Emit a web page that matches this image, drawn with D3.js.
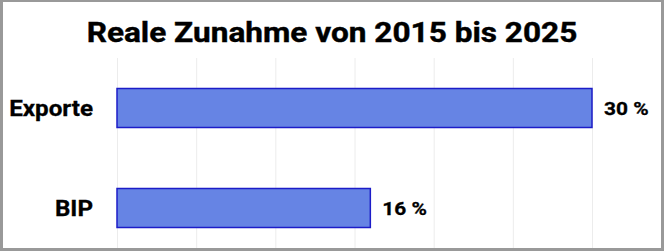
<!DOCTYPE html>
<html>
<head>
<meta charset="utf-8">
<script src="https://cdn.jsdelivr.net/npm/d3@7"></script>
<style>
  html, body { margin: 0; padding: 0; background: #fff; }
  svg { display: block; }
</style>
</head>
<body>
<div id="wrapper"></div>
<script>
const categories = ["Exporte", "BIP"];
const values = [30, 16];
const gridTicks = [0, 5, 10, 15, 20, 25, 30];
const title = "Reale Zunahme von 2015 bis 2025";

const width = 664;
const height = 251;
const margin = { top: 58, left: 117, right: 72, bottom: 3 };

const svg = d3.select("#wrapper").append("svg")
    .attr("width", width)
    .attr("height", height);

// grauer Rahmen
svg.append("rect")
    .attr("width", width).attr("height", height)
    .attr("fill", "#999");
svg.append("rect")
    .attr("x", 3).attr("y", 2)
    .attr("width", width - 6).attr("height", height - 5)
    .attr("fill", "#fff");

const xScaler = d3.scaleLinear()
    .domain([0, 30])
    .range([margin.left, width - margin.right]);

const yScaler = d3.scaleBand()
    .domain(categories)
    .range([margin.top, margin.top + 200])
    .paddingInner(0.61)
    .paddingOuter(0.305);

// Gitterlinien
const grid = svg.append("g")
    .attr("transform", `translate(0,${margin.top})`)
    .call(d3.axisBottom(xScaler)
        .tickValues(gridTicks)
        .tickSize(height - margin.bottom - margin.top)
        .tickFormat(""));
grid.select(".domain").remove();
grid.selectAll(".tick line").attr("stroke", "#ececec").attr("stroke-width", 1);

// Schrift im Original ist breiter gezogen -> horizontal skalieren
svg.append("text")
    .attr("transform", `translate(${width / 2},42) scale(1.17,1)`)
    .attr("text-anchor", "middle")
    .style("font-family", "Roboto")
    .style("font-weight", "bold")
    .style("font-size", "27px")
    .attr("stroke", "#000")
    .attr("stroke-width", 0.4)
    .text(title);

const rows = categories.map((c, i) => ({ cat: c, val: values[i] }));

svg.selectAll(".bar")
    .data(rows)
    .join("rect")
    .attr("class", "bar")
    .attr("x", xScaler(0))
    .attr("y", d => yScaler(d.cat))
    .attr("width", d => xScaler(d.val) - xScaler(0))
    .attr("height", yScaler.bandwidth())
    .attr("fill", "#6684e4")
    .attr("stroke", "#1c1cc8")
    .attr("stroke-width", 1.5);

svg.selectAll(".cat")
    .data(rows)
    .join("text")
    .attr("class", "cat")
    .attr("transform", d => `translate(${xScaler(0) - 24},${yScaler(d.cat) + yScaler.bandwidth() / 2}) scale(1.1,1)`)
    .attr("dy", "0.35em")
    .attr("text-anchor", "end")
    .style("font-family", "Roboto")
    .style("font-weight", "bold")
    .style("font-size", "22px")
    .attr("stroke", "#000")
    .attr("stroke-width", 0.3)
    .text(d => d.cat);

svg.selectAll(".val")
    .data(rows)
    .join("text")
    .attr("class", "val")
    .attr("transform", d => `translate(${xScaler(d.val) + 12},${yScaler(d.cat) + yScaler.bandwidth() / 2}) scale(1.1,1)`)
    .attr("dy", "0.36em")
    .style("font-family", "Roboto")
    .style("font-weight", "bold")
    .style("font-size", "19px")
    .attr("stroke", "#000")
    .attr("stroke-width", 0.3)
    .text(d => d.val + " %");
</script>
</body>
</html>
